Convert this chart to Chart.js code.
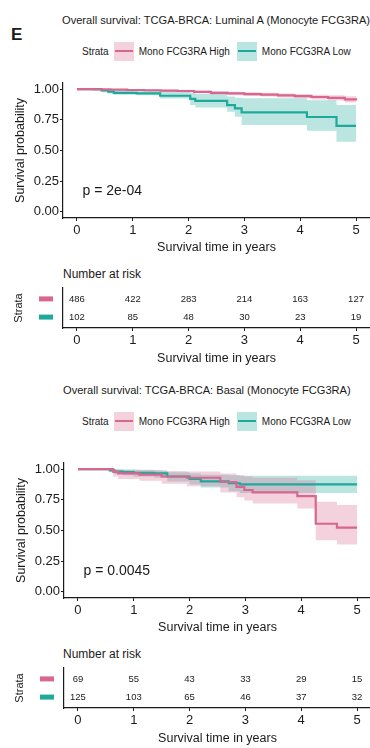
<!DOCTYPE html>
<html>
<head>
<meta charset="utf-8">
<script src="https://cdn.jsdelivr.net/npm/chart.js@4.4.0/dist/chart.umd.min.js"></script>
<style>
body{margin:0;width:370px;height:748px;overflow:hidden;background:#fff;position:relative;
  font-family:"Liberation Sans",Arial,sans-serif;color:#1a1a1a}
.abs{position:absolute;white-space:nowrap}
canvas{position:absolute}
.panel-tag{font-weight:bold;font-size:17px}
.title{font-size:11.1px;line-height:14px}
.legend{display:flex;align-items:center;font-size:10px;height:20px}
.key{width:20px;height:19px;position:relative;margin:0 5px}
.key span{position:absolute;left:1px;right:1px;top:8.5px;height:2px}
.risk-head{font-size:12px;line-height:14px}
</style>
</head>
<body>

<div class="abs panel-tag" style="left:11px;top:25px">E</div>

<div class="abs title" style="left:62px;top:13px" id="title1"></div>
<div class="abs legend" style="left:82px;top:41px" id="legend1"></div>
<canvas id="km1" width="370" height="182" style="left:0;top:78px"></canvas>
<div class="abs risk-head" style="left:63px;top:267px">Number at risk</div>
<canvas id="risk1" width="370" height="90" style="left:0;top:280px"></canvas>

<div class="abs title" style="left:63px;top:383px" id="title2"></div>
<div class="abs legend" style="left:82px;top:411px" id="legend2"></div>
<canvas id="km2" width="370" height="182" style="left:1px;top:458px"></canvas>
<div class="abs risk-head" style="left:63px;top:647px">Number at risk</div>
<canvas id="risk2" width="370" height="90" style="left:1px;top:660px"></canvas>

<script>
/*
=================================
DATA
=================================
*/

const strataNames = ["Mono FCG3RA High", "Mono FCG3RA Low"];
const xTicks = [0, 1, 2, 3, 4, 5];
const yTicks = [0, 0.25, 0.5, 0.75, 1];
const riskTimes = [0, 1, 2, 3, 4, 5];

// Luminal A
const lumTitle = "Overall survival: TCGA-BRCA: Luminal A (Monocyte FCG3RA)";
const lumPval = "p = 2e-04";

const lumHighTime  = [0, 0.3, 0.6, 0.9, 1.2, 1.5, 1.8, 2.1, 2.4, 2.7, 3.0, 3.3, 3.6, 3.9, 4.2, 4.5, 4.8, 5.0];
const lumHighSurv  = [1, 0.998, 0.996, 0.993, 0.991, 0.988, 0.985, 0.978, 0.97, 0.965, 0.96, 0.955, 0.949, 0.943, 0.936, 0.929, 0.917, 0.907];
const lumHighUpper = [1, 1, 1, 0.999, 0.998, 0.996, 0.994, 0.989, 0.982, 0.978, 0.974, 0.97, 0.965, 0.96, 0.955, 0.95, 0.942, 0.938];
const lumHighLower = [1, 0.993, 0.99, 0.986, 0.983, 0.979, 0.975, 0.966, 0.957, 0.951, 0.945, 0.939, 0.932, 0.925, 0.916, 0.907, 0.891, 0.876];

const lumLowTime  = [0, 0.44, 0.56, 0.66, 1.07, 1.49, 2.03, 2.12, 2.69, 2.83, 2.95, 4.12, 4.65, 5.0];
const lumLowSurv  = [1, 0.99, 0.98, 0.97, 0.965, 0.946, 0.92, 0.905, 0.87, 0.843, 0.81, 0.773, 0.70, 0.70];
const lumLowUpper = [1, 1, 1, 0.995, 0.99, 0.985, 0.97, 0.96, 0.94, 0.93, 0.925, 0.91, 0.87, 0.87];
const lumLowLower = [1, 0.975, 0.965, 0.955, 0.95, 0.924, 0.87, 0.85, 0.815, 0.775, 0.707, 0.661, 0.572, 0.572];

const lumRiskHigh = [486, 422, 283, 214, 163, 127];
const lumRiskLow  = [102, 85, 48, 30, 23, 19];

// Basal
const basTitle = "Overall survival: TCGA-BRCA: Basal (Monocyte FCG3RA)";
const basPval = "p = 0.0045";

const basHighTime  = [0, 0.63, 0.72, 1.1, 1.5, 1.95, 2.55, 2.84, 2.98, 3.13, 3.93, 4.26, 4.64, 5.0];
const basHighSurv  = [1, 0.98, 0.965, 0.955, 0.94, 0.93, 0.895, 0.856, 0.83, 0.81, 0.78, 0.555, 0.523, 0.523];
const basHighUpper = [1, 1, 0.995, 0.99, 0.985, 0.98, 0.965, 0.95, 0.94, 0.93, 0.91, 0.735, 0.707, 0.707];
const basHighLower = [1, 0.94, 0.92, 0.905, 0.88, 0.86, 0.81, 0.77, 0.745, 0.72, 0.68, 0.42, 0.385, 0.385];

const basLowTime  = [0, 0.57, 0.65, 0.8, 1.0, 1.37, 1.6, 2.0, 2.2, 2.7, 2.9, 5.0];
const basLowSurv  = [1, 0.99, 0.98, 0.975, 0.97, 0.965, 0.94, 0.92, 0.90, 0.885, 0.876, 0.876];
const basLowUpper = [1, 1, 1, 0.998, 0.995, 0.99, 0.975, 0.965, 0.955, 0.95, 0.946, 0.946];
const basLowLower = [1, 0.975, 0.96, 0.95, 0.94, 0.93, 0.90, 0.875, 0.85, 0.82, 0.805, 0.805];

const basRiskHigh = [69, 55, 43, 33, 29, 15];
const basRiskLow  = [125, 103, 65, 46, 37, 32];

/*
=================================
STYLE
=================================
*/

const lineColors = ["#d8668f", "#1fa99b"];
const bandColors = ["rgba(216,102,143,0.3)", "rgba(31,169,155,0.3)"];
const ink = "#1a1a1a";
const fontFamily = '"Liberation Sans", Arial, sans-serif';

Chart.defaults.font.family = fontFamily;
Chart.defaults.color = ink;
Chart.defaults.animation = false;

/*
=================================
TITLES AND LEGENDS
=================================
*/

function buildLegend(id){

    const box = document.getElementById(id);

    let html = '<span>Strata</span>';

    strataNames.forEach((name, i) => {

        html +=
            '<span class="key" style="background:' + bandColors[i] + '">' +
            '<span style="background:' + lineColors[i] + '"></span></span>' +
            '<span style="margin-right:2px">' + name + '</span>';
    });

    box.innerHTML = html;
}

document.getElementById("title1").textContent = lumTitle;
document.getElementById("title2").textContent = basTitle;
buildLegend("legend1");
buildLegend("legend2");

/*
=================================
SHARED AXIS PIECES
=================================
*/

// keep the plot panel where it is, labels may hang over the edges
function noLabelPadding(s){
    s.paddingTop = 0;
    s.paddingBottom = 0;
    s.paddingLeft = 0;
    s.paddingRight = 0;
}

function xAxis(height, titlePad){

    return {
        type: "linear",
        min: -0.25,
        max: 5.25,
        afterBuildTicks: s => { s.ticks = xTicks.map(v => ({value: v})); },
        afterFit: s => { s.height = height; noLabelPadding(s); },
        ticks: {font: {size: 13}, padding: 2, color: ink},
        grid: {drawOnChartArea: false, tickLength: 3, color: ink, lineWidth: 1},
        border: {color: ink, width: 1.2},
        title: {
            display: true,
            text: "Survival time in years",
            font: {size: 12.5},
            color: ink,
            padding: {top: 0, bottom: titlePad}
        }
    };
}

/*
=================================
SURVIVAL CURVES
=================================
*/

const pvalPlugin = {
    id: "pval",
    afterDraw(chart, args, opts){
        const ctx = chart.ctx;
        ctx.save();
        ctx.font = "14px " + fontFamily;
        ctx.fillStyle = ink;
        ctx.textAlign = "left";
        ctx.textBaseline = "middle";
        ctx.fillText(
            opts.text,
            chart.scales.x.getPixelForValue(0.1),
            chart.scales.y.getPixelForValue(0.165)
        );
        ctx.restore();
    }
};

function kmChart(id, curves, pText){

    const datasets = [];

    curves.forEach((c, i) => {

        const pts = arr => c.time.map((t, k) => ({x: t, y: arr[k]}));

        datasets.push({
            data: pts(c.upper),
            borderColor: "rgba(0,0,0,0)",
            borderWidth: 1,
            pointRadius: 0,
            stepped: true,
            fill: false,
            order: 2
        });

        datasets.push({
            data: pts(c.lower),
            borderColor: "rgba(0,0,0,0)",
            borderWidth: 1,
            pointRadius: 0,
            stepped: true,
            fill: "-1",
            backgroundColor: bandColors[i],
            order: 2
        });
    });

    curves.forEach((c, i) => {

        datasets.push({
            data: c.time.map((t, k) => ({x: t, y: c.surv[k]})),
            borderColor: lineColors[i],
            borderWidth: 2.2,
            pointRadius: 0,
            stepped: true,
            fill: false,
            order: 1
        });
    });

    new Chart(document.getElementById(id), {
        type: "line",
        data: {datasets: datasets},
        options: {
            responsive: false,
            layout: {padding: {top: 5, right: 0, bottom: 0, left: 0}},
            plugins: {
                legend: {display: false},
                tooltip: {enabled: false},
                pval: {text: pText}
            },
            scales: {
                x: xAxis(42, 5),
                y: {
                    min: -0.05,
                    max: 1.05,
                    afterBuildTicks: s => { s.ticks = yTicks.map(v => ({value: v})); },
                    afterFit: s => { s.width = 63; noLabelPadding(s); },
                    ticks: {
                        font: {size: 13},
                        padding: 1,
                        color: ink,
                        callback: v => v.toFixed(2)
                    },
                    grid: {drawOnChartArea: false, tickLength: 3, color: ink, lineWidth: 1},
                    border: {color: ink, width: 1.2},
                    title: {
                        display: true,
                        text: "Survival probability",
                        font: {size: 12.5},
                        color: ink,
                        padding: {top: 13, bottom: 0}
                    }
                }
            }
        },
        plugins: [pvalPlugin]
    });
}

/*
=================================
RISK TABLES
=================================
*/

const riskPlugin = {
    id: "riskText",
    afterDatasetsDraw(chart){
        const ctx = chart.ctx;
        ctx.save();
        ctx.textAlign = "center";
        ctx.textBaseline = "middle";

        chart.data.datasets.forEach((ds, i) => {

            const meta = chart.getDatasetMeta(i);

            meta.data.forEach((el, k) => {
                ctx.font = "9.5px " + fontFamily;
                ctx.fillStyle = ink;
                ctx.fillText(String(ds.counts[k]), el.x, el.y);
            });

            // strata colour swatch in place of the tick label
            if(meta.data.length){
                ctx.fillStyle = lineColors[i];
                ctx.fillRect(chart.chartArea.left - 24, meta.data[0].y - 2.5, 14, 5);
            }
        });

        ctx.restore();
    }
};

function riskChart(id, counts){

    const datasets = counts.map((arr, i) => ({
        data: riskTimes.map(t => ({x: t, y: counts.length - i})),
        counts: arr,
        pointRadius: 0,
        showLine: false
    }));

    new Chart(document.getElementById(id), {
        type: "scatter",
        data: {datasets: datasets},
        options: {
            responsive: false,
            layout: {padding: {top: 8, right: 0, bottom: 0, left: 0}},
            plugins: {
                legend: {display: false},
                tooltip: {enabled: false}
            },
            scales: {
                x: xAxis(42, 4),
                y: {
                    min: 0.4,
                    max: 2.6,
                    afterFit: s => { s.width = 63; noLabelPadding(s); },
                    ticks: {display: false},
                    grid: {display: false},
                    border: {display: true, color: ink, width: 1.2},
                    title: {
                        display: true,
                        text: "Strata",
                        font: {size: 11},
                        color: ink,
                        padding: {top: 12, bottom: 0}
                    }
                }
            }
        },
        plugins: [riskPlugin]
    });
}

/*
=================================
DRAW
=================================
*/

kmChart("km1", [
    {time: lumHighTime, surv: lumHighSurv, upper: lumHighUpper, lower: lumHighLower},
    {time: lumLowTime, surv: lumLowSurv, upper: lumLowUpper, lower: lumLowLower}
], lumPval);

riskChart("risk1", [lumRiskHigh, lumRiskLow]);

kmChart("km2", [
    {time: basHighTime, surv: basHighSurv, upper: basHighUpper, lower: basHighLower},
    {time: basLowTime, surv: basLowSurv, upper: basLowUpper, lower: basLowLower}
], basPval);

riskChart("risk2", [basRiskHigh, basRiskLow]);
</script>
</body>
</html>
